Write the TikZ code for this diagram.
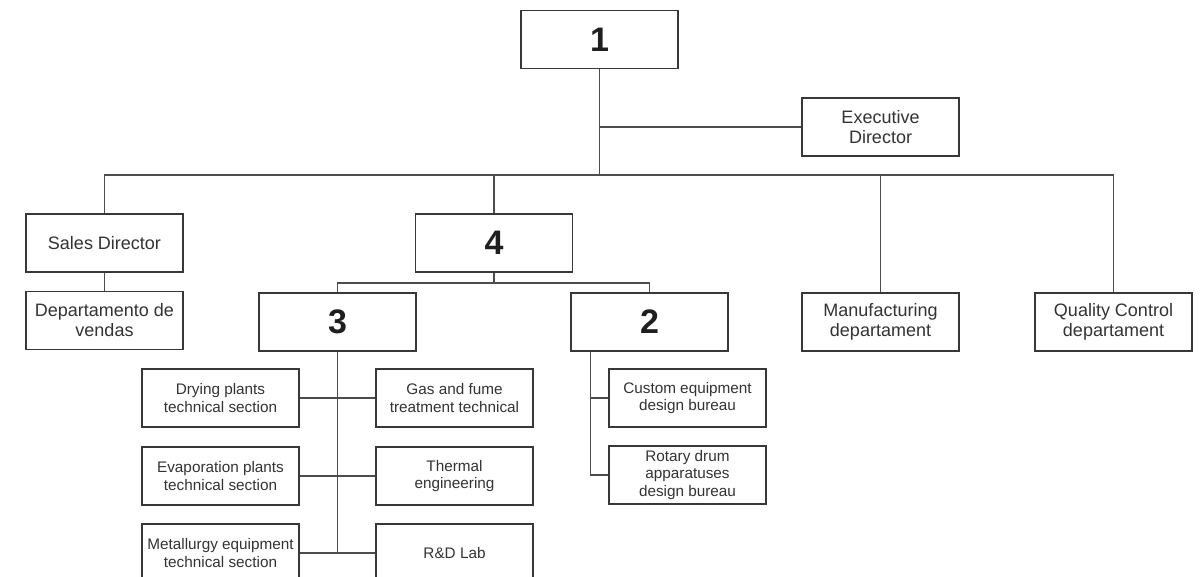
\documentclass[tikz,border=0pt]{standalone}
\usepackage{fontspec}
\setmainfont{Liberation Sans}
\begin{document}
\begin{tikzpicture}[x=1pt,y=-1pt,
  box/.style={draw=black!78,line width=1.2pt,fill=white,minimum width=157pt,minimum height=58pt,inner sep=1pt,align=center,text=black!80},
  bigtxt/.style={font=\fontsize{18}{20}\selectfont},
  smalltxt/.style={font=\fontsize{15.3}{17.5}\selectfont},
  numtxt/.style={font=\fontsize{34}{34}\selectfont\bfseries,text=black!88},
  link/.style={draw=black!70,line width=1.2pt}]
\clip (0,0) rectangle (1201,577);
\fill[white] (0,0) rectangle (1201,577);
% top level
\node[box,numtxt] (n1) at (599.5,39.5) {1};
\node[box,bigtxt] (exec) at (880.5,127) {Executive\\Director};
\node[box,bigtxt] (sales) at (104.5,243) {Sales Director};
\node[box,bigtxt] (dept) at (104.5,320.5) {Departamento de\\vendas};
\node[box,numtxt] (n4) at (494,243) {4};
\node[box,numtxt] (n3) at (337.5,322) {3};
\node[box,numtxt] (n2) at (649.5,322) {2};
\node[box,bigtxt] (manuf) at (880.5,322) {Manufacturing\\departament};
\node[box,bigtxt] (qual) at (1113.5,322) {Quality Control\\departament};
% sections under 3
\node[box,smalltxt] (dry) at (220.5,398) {Drying plants\\technical section};
\node[box,smalltxt] (gas) at (454.5,398) {Gas and fume\\treatment technical};
\node[box,smalltxt] (evap) at (220.5,476) {Evaporation plants\\technical section};
\node[box,smalltxt] (therm) at (454.5,476) {Thermal\\engineering};
\node[box,smalltxt] (metal) at (220.5,553) {Metallurgy equipment\\technical section};
\node[box,smalltxt] (rnd) at (454.5,553) {R\&D Lab};
% sections under 2
\node[box,smalltxt] (cust) at (687.5,398) {Custom equipment\\design bureau};
\node[box,smalltxt] (rot) at (687.5,475) {Rotary drum\\apparatuses\\design bureau};
% helper coordinates
\coordinate (bus) at (0,175);
\coordinate (bus2) at (0,283);
\coordinate (sp2) at ([xshift=20pt]n2.south west);
% connectors
\draw[link] (n1.south) -- (n1.south |- bus);
\draw[link] (n1.south |- exec.west) -- (exec.west);
\draw[link] (sales.north) -- (sales.north |- bus) -- (qual.north |- bus) -- (qual.north);
\draw[link] (n4.north) -- (n4.north |- bus);
\draw[link] (manuf.north) -- (manuf.north |- bus);
\draw[link] (sales.south) -- (dept.north);
\draw[link] (n4.south) -- (n4.south |- bus2);
\draw[link] (n3.north) -- (n3.north |- bus2) -- (n2.north |- bus2) -- (n2.north);
\draw[link] (n3.south) -- (n3.south |- metal.east);
\draw[link] (dry.east) -- (gas.west);
\draw[link] (evap.east) -- (therm.west);
\draw[link] (metal.east) -- (rnd.west);
\draw[link] (sp2) |- (cust.west);
\draw[link] (sp2) |- (rot.west);
\end{tikzpicture}
\end{document}
